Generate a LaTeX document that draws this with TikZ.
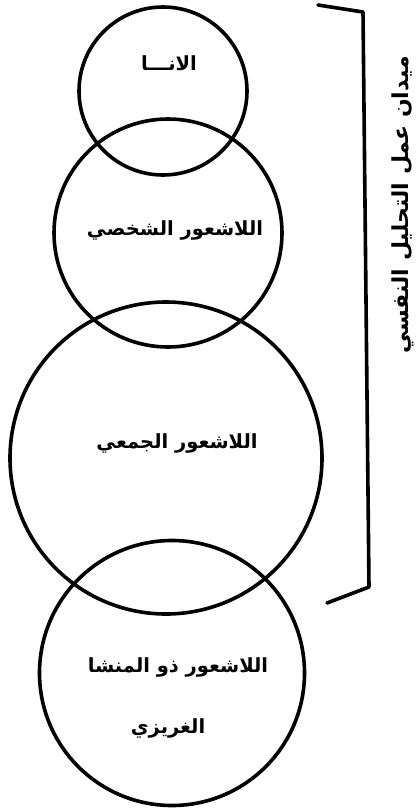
\documentclass[tikz,border=0pt]{standalone}
\usepackage{fontspec}
\TeXXeTstate=1
\newfontfamily\arabicfont[Script=Arabic,BoldFont={DejaVu Sans Bold}]{DejaVu Sans}
\tikzset{
  ring/.style={circle, draw=black, line width=3.6pt, inner sep=0pt},
  lbl/.style={font=\arabicfont\bfseries\fontsize{19.5}{23}\selectfont, inner sep=0pt},
  brk/.style={draw=black, line width=3.6pt, line join=round, line cap=round}
}
\begin{document}
\begin{tikzpicture}[x=1pt,y=-1pt]
\useasboundingbox (0,0) rectangle (417,809);
\node[ring, minimum size=168pt] (ego) at (163,91) {};
\node[ring, minimum size=228pt] (pers) at (168,233) {};
\node[ring, minimum size=312pt] (coll) at (166,458) {};
\node[ring, minimum size=265pt] (inst) at (172,673) {};
\node[lbl] (tego) at (169,63) {\beginR الانـــا\endR};
\node[lbl] (tpers) at (175,230) {\beginR اللاشعور الشخصي\endR};
\node[lbl] (tcoll) at (177,443) {\beginR اللاشعور الجمعي\endR};
\node[lbl] (tinst1) at (178,667) {\beginR اللاشعور ذو المنشا\endR};
\node[lbl] (tinst2) at (168,728) {\beginR الغريزي\endR};
\coordinate (b1) at (318,5);
\coordinate (b2) at (363,12);
\coordinate (b3) at (369,587);
\coordinate (b4) at (327,603);
\draw[brk] (b1) -- (b2) -- (b3) -- (b4);
\node[lbl, rotate=90, font=\arabicfont\bfseries\fontsize{22}{26}\selectfont] (field) at (403,205) {\beginR ميدان عمل التحليل النفسي\endR};
\end{tikzpicture}
\end{document}
